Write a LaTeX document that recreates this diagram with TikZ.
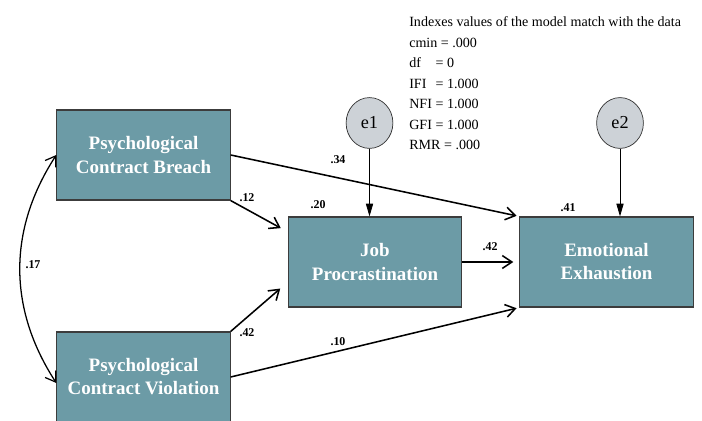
\documentclass[tikz,border=0pt]{standalone}
\usepackage{fontspec}
\setmainfont{Liberation Serif}
\usetikzlibrary{arrows.meta,positioning}
\definecolor{boxteal}{HTML}{6C9BA6}
\definecolor{errgray}{HTML}{CDD2D7}
\definecolor{boxedge}{HTML}{3C3C3C}
\newcommand{\fitkey}[1]{\makebox[0.66cm][l]{#1}}
\tikzset{
  box/.style={draw=boxedge,line width=0.8pt,fill=boxteal,minimum width=4.33cm,minimum height=2.25cm,
    align=center,text=white,font=\fontsize{13.5}{16.4}\selectfont\bfseries},
  errnode/.style={draw=black!80,line width=0.5pt,fill=errgray,ellipse,minimum width=1.17cm,minimum height=1.27cm,
    inner sep=0pt,font=\fontsize{13}{15}\selectfont},
  coef/.style={font=\fontsize{8.5}{10}\selectfont\bfseries},
  causal/.style={-{Straight Barb[length=2.4mm,width=3.2mm]},line width=1.1pt,shorten >=2pt},
  errarrow/.style={-{Triangle[length=3.2mm,width=1.8mm]},line width=0.6pt}
}
\usetikzlibrary{shapes.geometric}
\begin{document}
\begin{tikzpicture}[x=0.025cm,y=0.025cm]
    \useasboundingbox (0,0) rectangle (702,420);

      \node[box] (pcb) at (143.5,265) {Psychological\\Contract Breach};
      \node[box] (pcv) at (143.5,43) {Psychological\\Contract Violation};
      \node[box] (jp) at (375,158) {Job\\Procrastination};
      \node[box] (ee) at (606.5,158) {Emotional\\Exhaustion};
      \node[errnode] (e1) at (369.5,297) {e1};
      \node[errnode] (e2) at (620,297) {e2};

      % fit indexes
      \node[anchor=north west,inner sep=0pt,font=\fontsize{10}{14.6}\selectfont] (fit) at (409,408) {%
        \begin{tabular}{@{}l@{}}
        Indexes values of the model match with the data\\
        cmin = .000\\
        \fitkey{df}= 0\\
        \fitkey{IFI}= 1.000\\
        \fitkey{NFI}= 1.000\\
        \fitkey{GFI}= 1.000\\
        RMR = .000
        \end{tabular}};

      \draw[causal] (pcb.east) -- (ee.north west);
      \draw[causal,shorten >=0.2cm] (pcb.south east) -- ([yshift=0.75cm]jp.west);
      \draw[causal,shorten >=0.25cm] (pcv.north east) -- ([yshift=-0.5cm]jp.west);
      \draw[causal] (pcv.east) -- (ee.south west);
      \draw[causal,shorten >=0.15cm] (jp.east) -- (ee.west);
      \draw[{Straight Barb[length=2.4mm,width=3.2mm]}-{Straight Barb[length=2.4mm,width=3.2mm]},line width=0.9pt]
        (pcb.west) to[bend right=33] ([yshift=-0.15cm]pcv.west);
      \draw[errarrow] (e1.south) -- (e1.south |- jp.north);
      \draw[errarrow] (e2.south) -- (e2.south |- ee.north);

      \node[coef] (c34) at (338,260) {.34};
      \node[coef] (c12) at (247,222) {.12};
      \node[coef] (c20) at (318,215) {.20};
      \node[coef] (c41) at (568,212) {.41};
      \node[coef] (c17) at (33,155) {.17};
      \node[coef] (c42a) at (490,173) {.42};
      \node[coef] (c42b) at (247,87) {.42};
      \node[coef] (c10) at (338,78) {.10};

\end{tikzpicture}
\end{document}
